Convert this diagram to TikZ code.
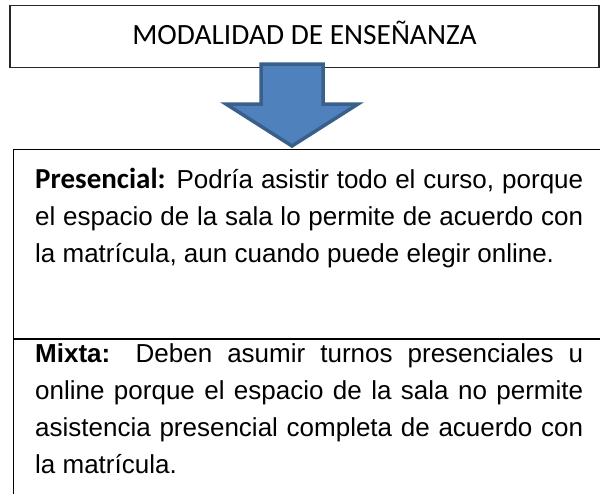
\documentclass[tikz,border=0pt]{standalone}
\usepackage{fontspec}
\usepackage{tikz}
\usetikzlibrary{calc}
\newfontfamily\calibri{Carlito}
\newfontfamily\arial{Liberation Sans}
\definecolor{flechaRelleno}{HTML}{4F81BD}
\definecolor{flechaBorde}{HTML}{3A5F8B}
\tikzset{
  caja/.style={draw=black!85, line width=1.2pt},
  texto/.style={anchor=base west, inner sep=0pt, text width=548pt, align=justify,
    font=\arial\fontsize{26}{37}\selectfont}
}
\def\drawFlecha{
\coordinate (F1) at (261,64);
\coordinate (F2) at (323,64);
\coordinate (F3) at (323,104);
\coordinate (F4) at (358,104);
\coordinate (F5) at (292,146);
\coordinate (F6) at (226,104);
\coordinate (F7) at (261,104);
\filldraw[fill=flechaRelleno, draw=flechaBorde, line width=3.5pt] (F1) -- (F2) -- (F3) -- (F4) -- (F5) -- (F6) -- (F7) -- cycle;
}

\begin{document}
\begin{tikzpicture}[x=1pt,y=-1pt]
	\useasboundingbox (0,0) rectangle (600,493);
	\node[caja, minimum width=589pt, minimum height=62.2pt, text height=18.9pt, text depth=3.4pt,
	  font=\calibri\fontsize{29.4}{34}\selectfont] (titulo) at (304.5,36.6) {MODALIDAD DE ENSEÑANZA};
	% cuadro inferior
	\coordinate (C1) at (13.3,149.3);
	\coordinate (C2) at (620,510);
	\coordinate (D1) at (13.3,339);
	\coordinate (D2) at (620,339);
	\draw[caja, draw=black] (C1) rectangle (C2);
	\draw[caja, draw=black] (D1) -- (D2);
	\drawFlecha
	\node[texto] (presencial) at (35,188) {{\calibri\bfseries\fontsize{29}{37}\selectfont Presencial:} Podría asistir todo el curso, porque\linebreak el espacio de la sala lo permite de acuerdo con\linebreak la matrícula, aun cuando puede elegir online.};
	\node[texto] (mixta) at (35,362) {\textbf{Mixta:} Deben asumir turnos presenciales u\linebreak online porque el espacio de la sala no permite\linebreak asistencia presencial completa de acuerdo con\linebreak la matrícula.};
\end{tikzpicture}
\end{document}
